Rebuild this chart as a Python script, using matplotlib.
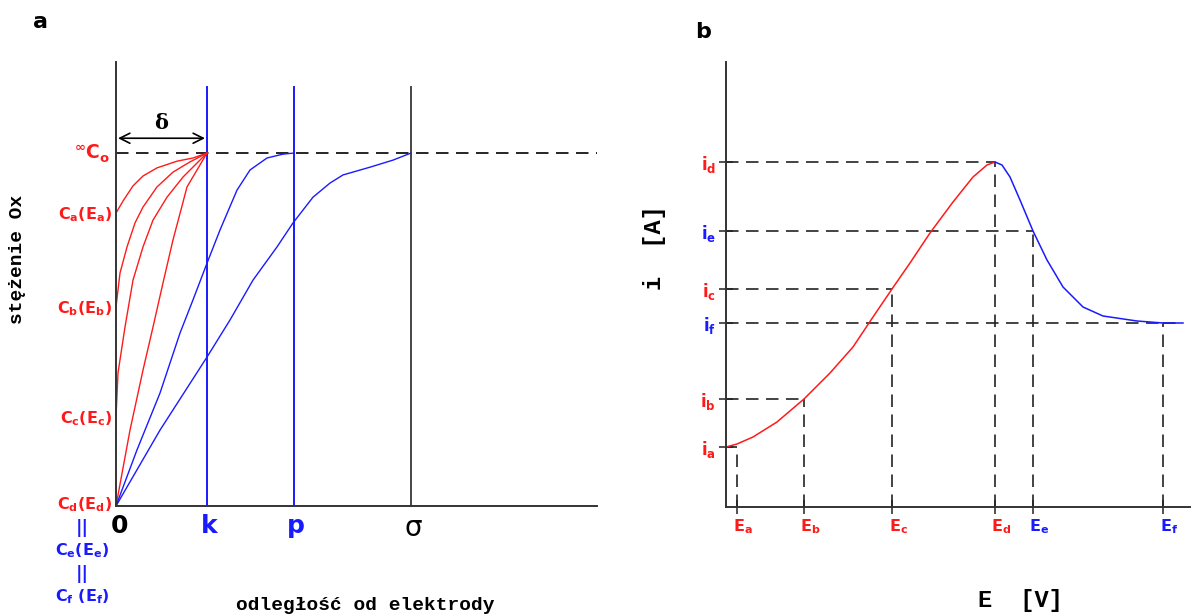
import matplotlib
matplotlib.use("Agg")
import matplotlib.pyplot as plt

plt.rcParams['mathtext.fontset'] = 'custom'
plt.rcParams['mathtext.rm'] = 'DejaVu Sans:bold'
plt.rcParams['mathtext.it'] = 'DejaVu Sans:bold'
plt.rcParams['mathtext.bf'] = 'DejaVu Sans:bold'

RED = '#ff1a1a'
BLUE = '#1a1aff'
AXC = '#333333'
MONO = 'Liberation Mono'

# ---- panel a: concentration profiles (C0 = 1) ----
c0 = 1.0
x_marks = [0.91, 1.78, 2.95]            # k, p, sigma
x_mark_labels = ['k', 'p', 'σ']
x_mark_colors = [BLUE, BLUE, '#444444']
c_levels = [0.83, 0.564, 0.252, 0.0]     # Ca, Cb, Cc, Cd at the electrode
c_labels = [r'$\mathrm{C_a(E_a)}$', r'$\mathrm{C_b(E_b)}$',
            r'$\mathrm{C_c(E_c)}$', r'$\mathrm{C_d(E_d)}$']

# red profiles, all end at (k, C0)
red_x = [
    [0, 0.07, 0.17, 0.27, 0.41, 0.61, 0.77, 0.91],
    [0, 0.04, 0.11, 0.19, 0.27, 0.41, 0.57, 0.74, 0.91],
    [0, 0.02, 0.09, 0.17, 0.27, 0.37, 0.51, 0.67, 0.91],
    [0, 0.14, 0.27, 0.37, 0.47, 0.57, 0.66, 0.71, 0.81, 0.91],
]
red_y = [
    [0.83, 0.864, 0.907, 0.935, 0.958, 0.977, 0.986, 1.0],
    [0.564, 0.660, 0.734, 0.802, 0.847, 0.904, 0.946, 0.975, 1.0],
    [0.252, 0.377, 0.507, 0.640, 0.734, 0.810, 0.875, 0.932, 1.0],
    [0.0, 0.215, 0.385, 0.507, 0.632, 0.754, 0.850, 0.904, 0.952, 1.0],
]
# blue profiles, ending at (p, C0) and (sigma, C0)
blue_x = [
    [0, 0.21, 0.44, 0.64, 0.77, 0.91, 1.04, 1.21, 1.34, 1.51, 1.67, 1.78],
    [0, 0.44, 0.91, 1.14, 1.37, 1.61, 1.77, 1.97, 2.14, 2.27, 2.54, 2.77, 2.95],
]
blue_y = [
    [0, 0.159, 0.320, 0.490, 0.584, 0.688, 0.782, 0.895, 0.952, 0.986, 0.997, 1.0],
    [0, 0.215, 0.422, 0.527, 0.640, 0.734, 0.802, 0.875, 0.915, 0.938, 0.960, 0.980, 1.0],
]

# ---- panel b: current vs potential ----
E_ticks = [0.11, 0.78, 1.66, 2.69, 3.07, 4.37]
i_levels = [0.60, 1.08, 2.18, 3.45, 2.76, 1.84]
letters = ['a', 'b', 'c', 'd', 'e', 'f']
pt_colors = [RED, RED, RED, RED, BLUE, BLUE]

curve_red_E = [0, 0.11, 0.27, 0.51, 0.78, 1.04, 1.27, 1.47, 1.66, 1.84, 2.04,
               2.27, 2.47, 2.61, 2.69]
curve_red_i = [0.60, 0.63, 0.70, 0.85, 1.08, 1.34, 1.60, 1.90, 2.18, 2.44, 2.74,
               3.05, 3.30, 3.42, 3.45]
curve_blue_E = [2.69, 2.76, 2.84, 2.94, 3.07, 3.21, 3.37, 3.57, 3.77, 4.11,
                4.37, 4.57]
curve_blue_i = [3.45, 3.42, 3.30, 3.07, 2.76, 2.47, 2.20, 2.00, 1.91, 1.86,
                1.84, 1.84]

W, H = 1198, 615
fig = plt.figure(figsize=(W / 100, H / 100), dpi=100)

dash = (0, (7.5, 4.5))

# ================= panel a =================
ax = fig.add_axes([116 / W, 1 - 506 / H, (597 - 116) / W, (506 - 62) / H])
ax.set_xlim(0, 4.81)
ax.set_ylim(0, 1.258)
for s in ['top', 'right']:
    ax.spines[s].set_visible(False)
for s in ['left', 'bottom']:
    ax.spines[s].set_color(AXC)
    ax.spines[s].set_linewidth(1.4)
ax.set_xticks([])
ax.set_yticks([])

ax.axhline(c0, color='black', lw=1.2, ls=dash)
for xm, col in zip(x_marks, x_mark_colors):
    ax.plot([xm, xm], [0, 1.187], color=col, lw=1.4)

for xs, ys in zip(red_x, red_y):
    ax.plot(xs, ys, color=RED, lw=1.0)
for xs, ys in zip(blue_x, blue_y):
    ax.plot(xs, ys, color=BLUE, lw=1.0)

# delta arrow
ax.annotate('', xy=(0.02, 1.042), xytext=(x_marks[0] - 0.02, 1.042),
            arrowprops=dict(arrowstyle='<->', color='black', lw=1.2,
                            mutation_scale=18, shrinkA=0, shrinkB=0))
ax.text(x_marks[0] / 2, 1.058, 'δ', ha='center', va='bottom',
        fontsize=15, fontweight='bold', family='DejaVu Serif')

# concentration labels on the left
ax.annotate(r'$^{\infty}\mathrm{C_o}$', xy=(0, c0), xytext=(-6, 0),
            textcoords='offset pixels', ha='right', va='center',
            color=RED, fontsize=13.5)
for lv, lab in zip(c_levels, c_labels):
    dy = 1 if lv == 0 else -2
    ax.annotate(lab, xy=(0, lv), xytext=(-4, dy), textcoords='offset pixels',
                ha='right', va='center', color=RED, fontsize=11.5)

# x labels under panel a
ax.annotate('0', xy=(0, 0), xytext=(3, -8), textcoords='offset pixels',
            ha='center', va='top', fontsize=18, fontweight='bold')
for xm, lab, col in zip(x_marks, x_mark_labels, x_mark_colors):
    ax.annotate(lab, xy=(xm, 0), xytext=(2, -8), textcoords='offset pixels',
                ha='center', va='top', fontsize=20 if lab == 'σ' else 18,
                fontweight='bold' if lab != 'σ' else 'normal',
                color='black' if lab == 'σ' else col)

# equalities below the axis origin
fig.text(82 / W, 1 - 528 / H, '||', color=BLUE, ha='center', va='center',
         fontsize=13, fontweight='bold')
fig.text(82 / W, 1 - 551 / H, r'$\mathrm{C_e(E_e)}$', color=BLUE,
         ha='center', va='center', fontsize=11.5)
fig.text(82 / W, 1 - 574 / H, '||', color=BLUE, ha='center', va='center',
         fontsize=13, fontweight='bold')
fig.text(82 / W, 1 - 597 / H, r'$\mathrm{C_f\ (E_f)}$', color=BLUE,
         ha='center', va='center', fontsize=11.5)

fig.text(18 / W, 1 - 259 / H, 'stężenie Ox', rotation=90, ha='center',
         va='center', family=MONO, fontweight='bold', fontsize=14)
fig.text(365 / W, 1 - 606 / H, 'odległość od elektrody', ha='center',
         va='center', family=MONO, fontweight='bold', fontsize=14)
fig.text(40 / W, 1 - 22 / H, 'a', ha='center', va='center',
         fontsize=16, fontweight='bold')

# ================= panel b =================
bx = fig.add_axes([726 / W, 1 - 507 / H, (1190 - 726) / W, (507 - 62) / H])
bx.set_xlim(0, 4.64)
bx.set_ylim(0, 4.45)
for s in ['top', 'right']:
    bx.spines[s].set_visible(False)
for s in ['left', 'bottom']:
    bx.spines[s].set_color(AXC)
    bx.spines[s].set_linewidth(1.4)
bx.set_xticks(E_ticks)
bx.set_yticks(i_levels)
bx.set_xticklabels([])
bx.set_yticklabels([])
bx.tick_params(direction='inout', length=10, width=1.2, color=AXC)

for e, iv in zip(E_ticks, i_levels):
    bx.plot([0, e], [iv, iv], color='#222222', lw=1.2, ls=dash)
    bx.plot([e, e], [0, iv], color='#222222', lw=1.2, ls=dash)
# the f level line runs on to the end of the plateau
bx.plot([E_ticks[5], curve_blue_E[-1]], [i_levels[5], i_levels[5]],
        color='#222222', lw=1.2, ls=dash)

bx.plot(curve_red_E, curve_red_i, color=RED, lw=1.1)
bx.plot(curve_blue_E, curve_blue_i, color=BLUE, lw=1.1)

for e, iv, l, col in zip(E_ticks, i_levels, letters, pt_colors):
    bx.annotate(r'$\mathrm{E_%s}$' % l, xy=(e, 0), xytext=(6, -10),
                textcoords='offset pixels', ha='center', va='top',
                color=col, fontsize=11.5)
    bx.annotate(r'$\mathrm{i_%s}$' % l, xy=(0, iv), xytext=(-10, -3),
                textcoords='offset pixels', ha='right', va='center',
                color=col, fontsize=12)

fig.text(655 / W, 1 - 248 / H, 'i  [A]', rotation=90, ha='center',
         va='center', family=MONO, fontweight='bold', fontsize=17)
fig.text(1020 / W, 1 - 601 / H, 'E  [V]', ha='center', va='center',
         family=MONO, fontweight='bold', fontsize=17)
fig.text(703 / W, 1 - 32 / H, 'b', ha='center', va='center',
         fontsize=16, fontweight='bold')

fig.savefig('out.png', dpi=100)
